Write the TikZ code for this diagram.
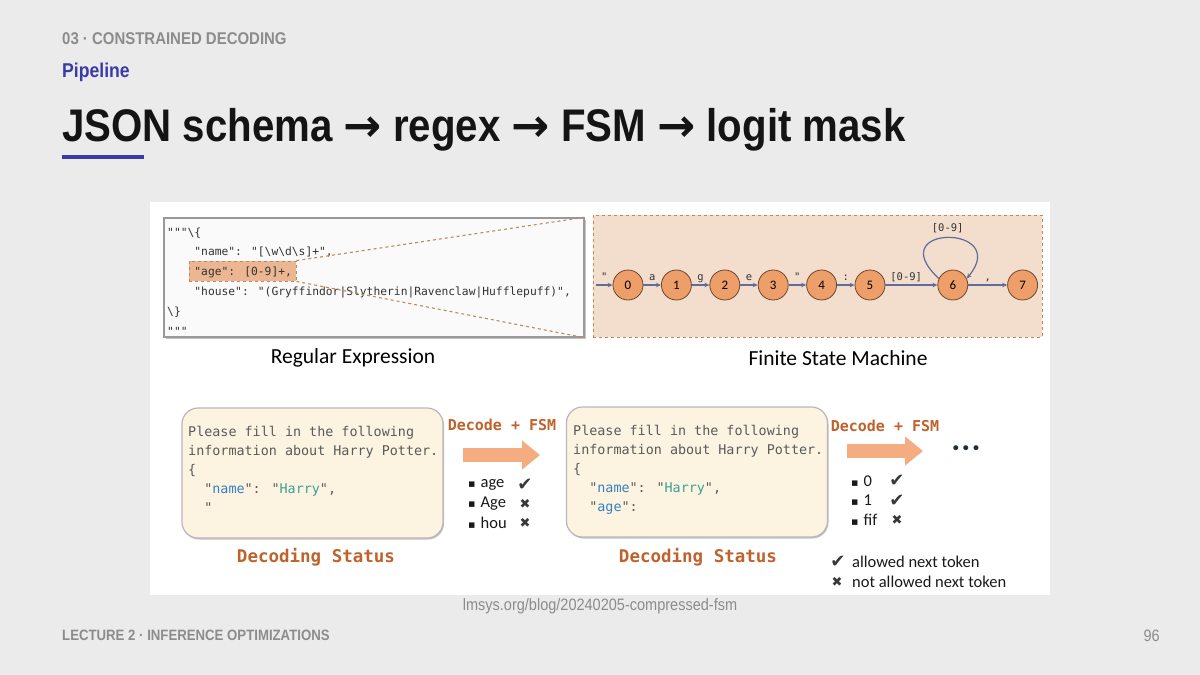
\documentclass[tikz,border=0pt]{standalone}
\usepackage{fontspec}
\setmainfont{Liberation Sans}
\newfontfamily\slidefont{Liberation Sans}[FakeStretch=0.88]
\newfontfamily\codefont{DejaVu Sans Mono}[Ligatures=TeXOff]
\newfontfamily\calfont{Carlito}
\newfontfamily\symfont{DejaVu Sans}
\usetikzlibrary{arrows.meta,positioning,calc,shadows}
\definecolor{SlideBg}{RGB}{235,235,235}
\definecolor{SlideBlue}{RGB}{59,59,168}
\definecolor{SlideGray}{RGB}{140,140,140}
\definecolor{FsmPeach}{RGB}{243,222,205}
\definecolor{FsmOrange}{RGB}{238,158,104}
\definecolor{FsmEdge}{RGB}{94,108,158}
\definecolor{ZoomDash}{RGB}{196,135,92}
\definecolor{AgeFill}{RGB}{236,182,146}
\definecolor{StatusCream}{RGB}{252,244,224}
\definecolor{StatusBrown}{RGB}{192,98,43}
\definecolor{CodeGray}{RGB}{90,90,90}
\definecolor{CodeBlue}{RGB}{52,128,196}
\definecolor{CodeTeal}{RGB}{58,160,150}
\definecolor{ArrowPeach}{RGB}{245,172,128}
\definecolor{DotNavy}{RGB}{28,46,64}
\newcommand{\fsz}[2]{\fontsize{#1}{#2}\selectfont}
\newcommand{\ind}[1]{\hphantom{#1}}
\newcommand{\ok}{{\symfont\fsz{18}{18}✔}}
\newcommand{\no}{{\symfont\fsz{13}{13}✖}}
\newcommand{\sqb}{{\symfont\fsz{11}{11}▪}}
\newcommand{\nm}[1]{\textcolor{CodeBlue}{#1}}
\newcommand{\hv}[1]{\textcolor{CodeTeal}{#1}}
\newcommand{\tarr}{{\symfont\bfseries →}}

\begin{document}
\begin{tikzpicture}[x=1pt,y=-1pt,
  fsmstate/.style={circle,draw=FsmOrange!45!black,fill=FsmOrange,line width=0.8pt,
    minimum size=30pt,inner sep=0pt,font=\calfont\fsz{13}{15}},
  edge/.style={-{Stealth[length=5pt,width=4.5pt]},FsmEdge,line width=1.2pt},
  elabel/.style={font=\codefont\fsz{10.5}{12},text=black!80,inner sep=2pt,
    text height=7pt,text depth=2pt},
  codeline/.style={anchor=base west,inner sep=0pt,font=\codefont\fsz{11.3}{13},text=black!80},
  statusbox/.style={draw=black!28,fill=StatusCream,rounded corners=16pt,line width=1.2pt,
    minimum width=261pt,minimum height=130pt,
    drop shadow={shadow xshift=1pt,shadow yshift=-1.5pt,fill=black!40,opacity=0.6}},
  statusline/.style={anchor=base west,inner sep=0pt,font=\codefont\fsz{13.4}{16},text=CodeGray},
  brownlabel/.style={font=\codefont\bfseries\fsz{#1}{#1},text=StatusBrown},
  caption/.style={font=\calfont\fsz{21.5}{24},text=black},
  tok/.style={anchor=west,inner sep=0pt,font=\calfont\fsz{16.5}{18},text=black!90},
  tickmark/.style={inner sep=0pt,text=black!78},
  bigarrow/.style={-{Triangle[length=18pt,width=28pt]},ArrowPeach,line width=14pt},
  zoomline/.style={ZoomDash,dashed,line width=1.1pt}
]
\useasboundingbox (0,0) rectangle (1200,675);
\fill[SlideBg] (0,0) rectangle (1200,675);

% slide header
\node[anchor=base west,inner sep=0pt,font=\slidefont\bfseries\fsz{17}{18},text=SlideGray] (kicker)
  at (62,44) {03 · CONSTRAINED DECODING};
\node[anchor=base west,inner sep=0pt,font=\slidefont\bfseries\fsz{20}{22},text=SlideBlue] (section)
  at (62,77) {Pipeline};
\node[anchor=base west,inner sep=0pt,font=\slidefont\bfseries\fsz{45.7}{50},text=black!92] (title)
  at (62,141) {JSON schema \tarr{} regex \tarr{} FSM \tarr{} logit mask};
\fill[SlideBlue] (62,155) rectangle (144,159);

% the figure
\fill[white] (150,202) rectangle (1050,595);

% regex box
\node[draw=black!40,fill=black!2,line width=1.5pt,minimum width=420pt,minimum height=119pt,
  drop shadow={shadow xshift=2pt,shadow yshift=-2pt,fill=black!45}] (regex) at (374,277.5) {};
\node[draw=ZoomDash,dashed,fill=AgeFill,line width=0.8pt,minimum width=107pt,minimum height=20pt,
  inner sep=0pt] (age) at (242.5,271) {};
\node[codeline] (c1) at (167,236) {"""\textbackslash\{};
\node[codeline] (c2) at (167,255.5) {\ind{0000}"name": "[\textbackslash w\textbackslash d\textbackslash s]+",};
\node[codeline] (c3) at (167,275) {\ind{0000}"age": [0-9]+,};
\node[codeline] (c4) at (167,295) {\ind{0000}"house": "(Gryffindor|Slytherin|Ravenclaw|Hufflepuff)",};
\node[codeline] (c5) at (167,315) {\textbackslash\}};
\node[codeline] (c6) at (167,335) {"""};

% fsm box
\node[draw=ZoomDash,dashed,fill=FsmPeach,line width=0.8pt,minimum width=449pt,minimum height=122pt,
  inner sep=0pt] (fsm) at (817.5,276) {};
\draw[zoomline] (age.north east) -- (regex.north east);
\draw[zoomline] (age.south east) -- (regex.south east);

\node[fsmstate] (s0) at (628,285) {0};
\foreach \i/\j in {1/0,2/1,3/2,4/3,5/4}
  \node[fsmstate,right=17.6pt of s\j] (s\i) {\i};
\node[fsmstate,right=52pt of s5] (s6) {6};
\node[fsmstate,right=39pt of s6] (s7) {7};

\coordinate (fsmin) at (596,285);
\draw[edge] (fsmin) -- node[elabel,above] {"} (s0);
\foreach \i/\j/\l in {0/1/a,1/2/g,2/3/e,3/4/",4/5/:}
  \draw[edge] (s\i) -- node[elabel,above] {\l} (s\j);
\draw[edge] (s5) -- node[elabel,above,pos=0.4] {[0-9]} (s6);
\draw[edge] (s6) -- node[elabel,above] {,} (s7);
\draw[edge] (s6.155) .. controls (880,224) and (1012,224) .. node[elabel,above=2pt] {[0-9]} (s6.25);

\node[caption] (regexcap) at (353,358) {Regular Expression};
\node[caption] (fsmcap) at (838,358) {Finite State Machine};

% decoding steps
\node[statusbox] (st1) at (312.5,473) {};
\foreach \ln [count=\i] in {{Please fill in the following},{information about Harry Potter.},
  {\{},{\ind{00}"\nm{name}": "\hv{Harry}",},{\ind{00}"}}
  \node[statusline] (st1l\i) at (188,{436.5+19*(\i-1)}) {\ln};
\node[brownlabel=17.5] (st1cap) at (316,557) {Decoding Status};

\node[brownlabel=15] (dec1) at (502,425) {Decode + FSM};
\coordinate (d1s) at (463,455);
\coordinate (d1e) at (540,455);
\draw[bigarrow] (d1s) -- (d1e);
\foreach \w/\m [count=\i] in {age/\ok,Age/\no,hou/\no}{
  \node[tok] (tokA\i) at (468,{485+19*(\i-1)}) {\sqb\hspace{5pt}\w};
  \node[tickmark] (markA\i) at (525,{485+19*(\i-1)}) {\m};
}

\node[statusbox] (st2) at (697,472) {};
\foreach \ln [count=\i] in {{Please fill in the following},{information about Harry Potter.},
  {\{},{\ind{00}"\nm{name}": "\hv{Harry}",},{\ind{00}"\nm{age}":}}
  \node[statusline] (st2l\i) at (573,{435+19*(\i-1)}) {\ln};
\node[brownlabel=17.5] (st2cap) at (698,557) {Decoding Status};

\node[brownlabel=15] (dec2) at (885,426) {Decode + FSM};
\coordinate (d2s) at (847,451);
\coordinate (d2e) at (923,451);
\draw[bigarrow] (d2s) -- (d2e);
\foreach \w/\m [count=\i] in {0/\ok,1/\ok,fif/\no}{
  \node[tok] (tokB\i) at (851,{481+19.5*(\i-1)}) {\sqb\hspace{5pt}\w};
  \node[tickmark] (markB\i) at (897,{481+19.5*(\i-1)}) {\m};
}
\node[font=\symfont\fsz{17}{17},text=DotNavy,inner sep=0pt] (more) at (966,450) {•••};

% legend
\node[tickmark] (legok) at (838,562) {\ok};
\node[tok] (legA) at (852,562) {allowed next token};
\node[tickmark] (legno) at (837,582) {\no};
\node[tok] (legB) at (852,582) {not allowed next token};

% slide footer
\node[anchor=base,inner sep=0pt,font=\slidefont\fsz{16.5}{18},text=SlideGray] (credit)
  at (600,610) {lmsys.org/blog/20240205-compressed-fsm};
\node[anchor=base west,inner sep=0pt,font=\slidefont\bfseries\fsz{15}{16},text=SlideGray] (footer)
  at (62,640) {LECTURE 2 · INFERENCE OPTIMIZATIONS};
\node[anchor=base east,inner sep=0pt,font=\slidefont\fsz{16.5}{18},text=SlideGray] (page)
  at (1160,641) {96};
\end{tikzpicture}
\end{document}
